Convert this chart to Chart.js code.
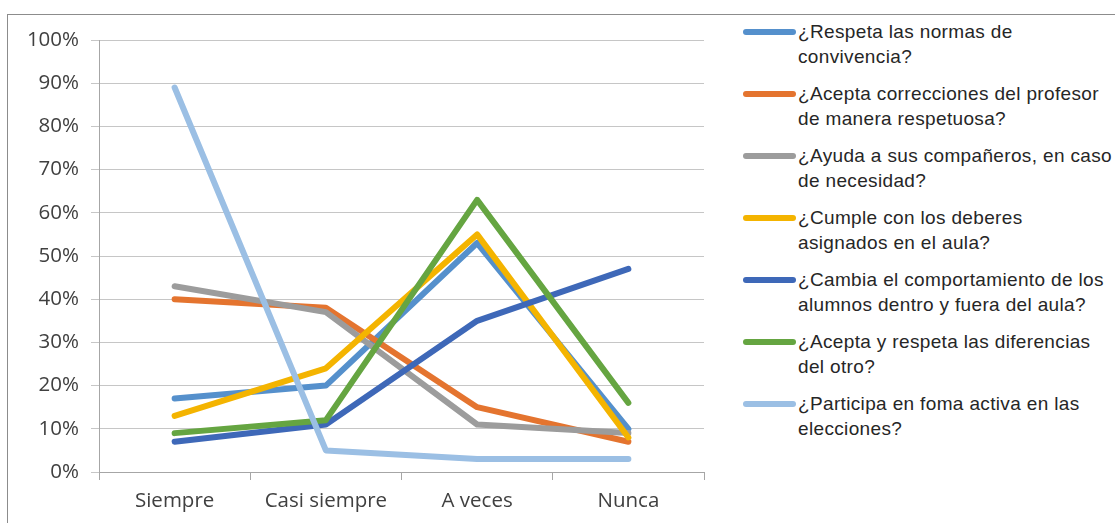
<!DOCTYPE html>
<html>
<head>
<meta charset="utf-8">
<script src="https://cdn.jsdelivr.net/npm/chart.js@4"></script>
<style>
  body { margin: 0; background: #fff; width: 1115px; height: 523px; overflow: hidden; position: relative; }
  #frame { position: absolute; left: 7px; top: 14px; width: 1120px; height: 520px; border: 1px solid #8c8c8c; box-sizing: border-box; }
  #wrap { position: absolute; left: 0; top: 0; width: 720px; height: 523px; }
  #legend { position: absolute; left: 743px; top: 19px; width: 372px; font-family: "Liberation Sans", Arial, sans-serif; font-size: 19px; letter-spacing: 0.35px; color: #262626; white-space: nowrap; }
  .item { position: relative; padding-left: 55px; line-height: 25px; height: 62px; }
  .swatch { position: absolute; left: 0; top: 10px; width: 53px; height: 6px; border-radius: 3px; }
</style>
</head>
<body>
<div id="frame"></div>
<div id="wrap"><canvas id="chart"></canvas></div>
<div id="legend"></div>
<script>
document.addEventListener('DOMContentLoaded', () => {
  const categories = ['Siempre', 'Casi siempre', 'A veces', 'Nunca'];
  const seriesNames = [
    '¿Respeta las normas de convivencia?',
    '¿Acepta correcciones del profesor de manera respetuosa?',
    '¿Ayuda a sus compañeros, en caso de necesidad?',
    '¿Cumple con los deberes asignados en el aula?',
    '¿Cambia el comportamiento de los alumnos dentro y fuera del aula?',
    '¿Acepta y respeta las diferencias del otro?',
    '¿Participa en foma activa en las elecciones?'
  ];
  // legend lines split like the original
  const legendLines = [
    ['¿Respeta las normas de', 'convivencia?'],
    ['¿Acepta correcciones del profesor', 'de manera respetuosa?'],
    ['¿Ayuda a sus compañeros, en caso', 'de necesidad?'],
    ['¿Cumple con los deberes', 'asignados en el aula?'],
    ['¿Cambia el comportamiento de los', 'alumnos dentro y fuera del aula?'],
    ['¿Acepta y respeta las diferencias', 'del otro?'],
    ['¿Participa en foma activa en las', 'elecciones?']
  ];
  const respeta = [17, 20, 53, 10];
  const correcciones = [40, 38, 15, 7];
  const ayuda = [43, 37, 11, 9];
  const cumple = [13, 24, 55, 8];
  const cambia = [7, 11, 35, 47];
  const diferencias = [9, 12, 63, 16];
  const participa = [89, 5, 3, 3];
  const yTicks = [0, 10, 20, 30, 40, 50, 60, 70, 80, 90, 100];

  const allValues = [respeta, correcciones, ayuda, cumple, cambia, diferencias, participa];
  const colors = ['#5590cc', '#e4742f', '#9c9c9c', '#f4b400', '#3e68b8', '#65a541', '#9bbfe4'];

  const legend = document.getElementById('legend');
  legendLines.forEach((lines, i) => {
    const item = document.createElement('div');
    item.className = 'item';
    item.innerHTML = '<span class="swatch" style="background:' + colors[i] + '"></span>' + lines.join('<br>');
    legend.appendChild(item);
  });

  const axisFont = { family: '"Open Sans", sans-serif', size: 20.5 };

  const ctx = document.getElementById('chart').getContext('2d');
  new Chart(ctx, {
    type: 'line',
    data: {
      labels: categories,
      datasets: allValues.map((vals, i) => ({
        label: seriesNames[i],
        data: vals,
        borderColor: colors[i],
        backgroundColor: colors[i],
        borderWidth: 6,
        borderCapStyle: 'round',
        borderJoinStyle: 'round',
        pointRadius: 0,
        tension: 0,
        order: allValues.length - i
      }))
    },
    options: {
      responsive: true,
      maintainAspectRatio: false,
      animation: false,
      layout: { padding: { left: 0, top: 40, right: 16, bottom: 0 } },
      plugins: { legend: { display: false }, tooltip: { enabled: false } },
      scales: {
        x: {
          offset: true,
          grid: { offset: true, drawOnChartArea: false, drawTicks: true, tickLength: 8, color: '#a6a6a6' },
          border: { color: '#a6a6a6' },
          ticks: { color: '#404040', font: axisFont, padding: 9 },
          afterFit: s => { s.height = 51; }
        },
        y: {
          min: 0,
          max: 100,
          afterBuildTicks: s => { s.ticks = yTicks.map(v => ({ value: v })); },
          grid: { color: '#c6c6c6', tickLength: 8 },
          border: { color: '#a6a6a6' },
          ticks: { color: '#404040', font: axisFont, padding: 12, callback: v => v + '%' },
          afterFit: s => { s.width = 99; }
        }
      }
    }
  });
});
</script>
</body>
</html>
